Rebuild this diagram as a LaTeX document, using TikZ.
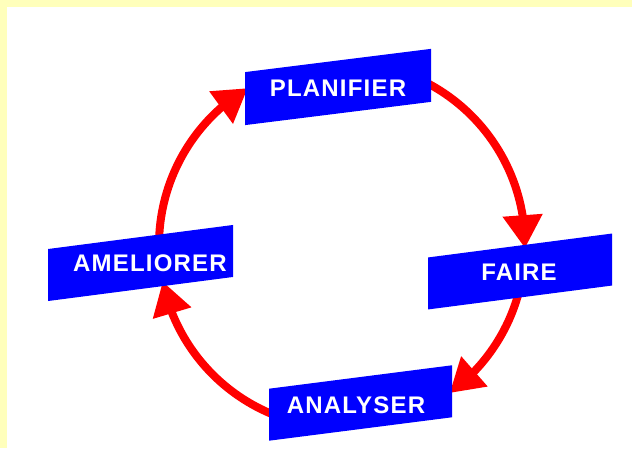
\documentclass[tikz,border=0pt]{standalone}
\usepackage{fontspec}
\setmainfont{Liberation Sans}
\usetikzlibrary{arrows.meta,bending}
\definecolor{stageblue}{HTML}{0000FF}
\definecolor{cyclered}{HTML}{FF0000}
\definecolor{framebg}{HTML}{FFFFBB}

\begin{document}
\begin{tikzpicture}[x=1pt,y=1pt,
    stagebox/.style={fill=stageblue},
    stagetext/.style={text=white,inner sep=0pt,font=\fontsize{24}{24}\selectfont\bfseries\addfontfeature{LetterSpace=5}},
    cyclearrow/.style={cyclered,line width=8pt,-{Triangle[width=38pt,length=33pt]}}]
    \useasboundingbox (0,0) rectangle (632,448);
    \fill[framebg] (0,0) rectangle (632,448);
    \fill[white] (7,0) rectangle (632,441);

    % circle of the cycle
    \coordinate (hub) at (342,203);
    \draw[cyclearrow] (hub) ++(183:183) arc[start angle=183,end angle=121,radius=183];
    \draw[cyclearrow] (hub) ++(65:183) arc[start angle=65,end angle=-1,radius=183];
    \draw[cyclearrow] (hub) ++(-10:183) arc[start angle=-10,end angle=-54,radius=183];
    \draw[cyclearrow] (hub) ++(250:183) arc[start angle=250,end angle=191.5,radius=183];

    % slanted boxes
    \fill[stagebox,shift={(338,361)},yslant=0.125](-93,-26.5) rectangle (93,26.5);
    \fill[stagebox,shift={(140.5,185)},yslant=0.13](-92.5,-26) rectangle (92.5,26);
    \fill[stagebox,shift={(520,176.5)},yslant=0.13](-92,-26) rectangle (92,26);
    \fill[stagebox,shift={(360.5,45)},yslant=0.128](-91.5,-26) rectangle (91.5,26);

    \node[stagetext] (plan) at (338,360) {PLANIFIER};
    \node[stagetext] (amel) at (150,185) {AMELIORER};
    \node[stagetext] (faire) at (519,176) {FAIRE};
    \node[stagetext] (analy) at (356,43) {ANALYSER};
\end{tikzpicture}
\end{document}
